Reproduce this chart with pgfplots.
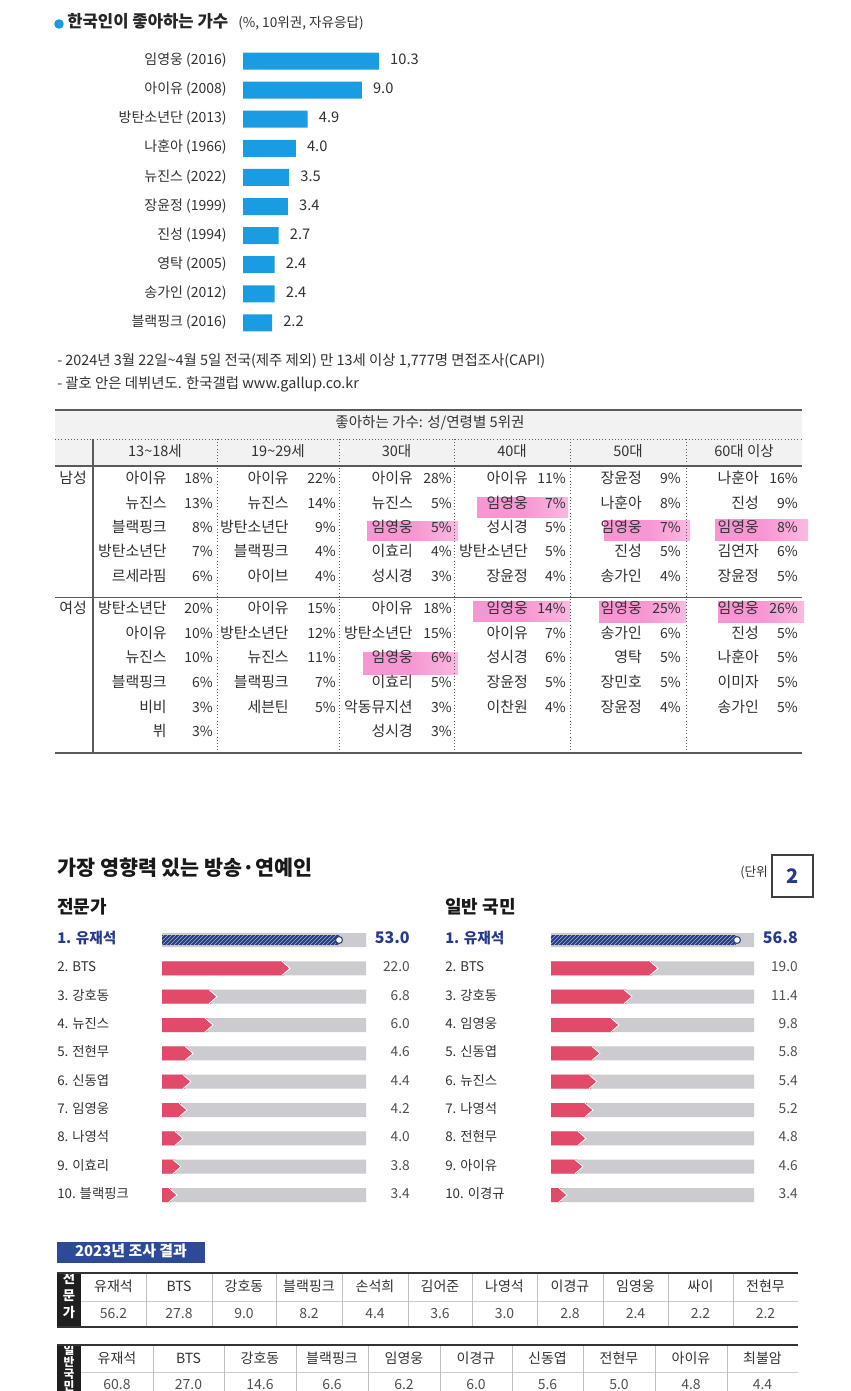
\documentclass[border=0pt]{standalone}
\usepackage{fontspec}
\setmainfont{Noto Sans CJK KR}
\usepackage{pgfplots}
\pgfplotsset{compat=1.18}
\usetikzlibrary{patterns}
\definecolor{barblue}{RGB}{26,156,226}
\definecolor{txt}{RGB}{50,50,50}
\definecolor{navy}{RGB}{38,58,140}
\definecolor{redbar}{RGB}{226,74,106}
\definecolor{track}{RGB}{204,204,208}
\definecolor{pinkhl}{RGB}{246,150,210}
\definecolor{pinkhl2}{RGB}{250,185,225}
\definecolor{hdrgray}{RGB}{242,242,242}
\definecolor{boxnavy}{RGB}{44,74,152}
\definecolor{rule}{RGB}{90,90,90}
\definecolor{valgray}{RGB}{80,80,80}
\pgfdeclareplotmark{tip}{%
  \pgfpathmoveto{\pgfqpoint{-1.5pt}{5.25pt}}%
  \pgfpathlineto{\pgfqpoint{4.5pt}{0pt}}%
  \pgfpathlineto{\pgfqpoint{-1.5pt}{-5.25pt}}%
  \pgfusepathqfillstroke}
\newcommand\fs[1]{\fontsize{#1}{#1}\selectfont}
\newcommand\tc[5]{\node[anchor=mid east,inner sep=0pt] at (#1,#3) {\fs{11.2}#4};\node[anchor=mid east,inner sep=0pt] at (#2,#3) {\fs{10.5}#5\%};}
\newcommand\hl[4]{\shade[left color=pinkhl, right color=pinkhl2, middle color=pinkhl] (#1,#2) rectangle (#3,#4);}
\begin{document}
\begin{tikzpicture}
\path[use as bounding box] (0pt,0pt) rectangle (637.5pt,-1043.25pt);
\fill[white] (0pt,0pt) rectangle (637.5pt,-1043.25pt);
\begin{scope}[x=0.75pt,y=-0.75pt]
% ---------- title 1
\fill[barblue] (59,24) circle (4.8);
\node[anchor=mid west, inner sep=0, text=black!85] at (67,24) {\fs{12.5}\bfseries 한국인이 좋아하는 가수};
\node[anchor=mid west, inner sep=0, text=txt] at (238,24) {\fs{10.2}(\%, 10위권, 자유응답)};
% ---------- notes
\node[anchor=mid west, inner sep=0, text=txt] at (57,362) {\fs{10.8}- 2024년 3월 22일\textasciitilde 4월 5일 전국(제주 제외) 만 13세 이상 1,777명 면접조사(CAPI)};
\node[anchor=mid west, inner sep=0, text=txt] at (57,385) {\fs{10.8}- 괄호 안은 데뷔년도. 한국갤럽 www.gallup.co.kr};
% ---------- table 1
\fill[hdrgray] (55,410) rectangle (802,466);
\hl{367}{521}{458}{540}
\hl{477}{497}{568}{517}
\hl{604}{520}{690}{540}
\hl{715}{519}{808}{540}
\hl{363}{652}{458}{674}
\hl{473}{601}{570}{621}
\hl{599}{601}{686}{622}
\hl{718}{601}{804}{622}
\draw[rule, line width=1.2pt] (55,410) -- (802,410);
\draw[rule, dotted] (55,439) -- (802,439);
\draw[rule, line width=0.9pt] (55,466) -- (802,466);
\draw[rule, line width=1.2pt] (55,597.5) -- (802,597.5);
\draw[rule, line width=1.2pt] (55,753) -- (802,753);
\draw[rule, line width=0.9pt] (93,439) -- (93,753);
\foreach \x in {217,339,454,570,686} \draw[rule, dotted] (\x,439) -- (\x,753);
\begin{scope}[every node/.style={text=txt, font=\fs{10.9}, anchor=mid}]
\node at (430,424) {좋아하는 가수: 성/연령별 5위권};
\node at (155,453) {13\textasciitilde 18세};
\node at (278,453) {19\textasciitilde 29세};
\node at (396.5,453) {30대};
\node at (512,453) {40대};
\node at (628,453) {50대};
\node at (744,453) {60대 이상};
\end{scope}
\begin{scope}[every node/.style={text=txt}]
\node[anchor=mid] at (73,480) {\fs{11.2}남성};
\node[anchor=mid] at (73,610) {\fs{11.2}여성};
% col 1
\tc{167}{213}{480}{아이유}{18}
\tc{167}{213}{504.5}{뉴진스}{13}
\tc{167}{213}{529}{블랙핑크}{8}
\tc{167}{213}{553}{방탄소년단}{7}
\tc{167}{213}{577.5}{르세라핌}{6}
\tc{167}{213}{610}{방탄소년단}{20}
\tc{167}{213}{634.5}{아이유}{10}
\tc{167}{213}{659}{뉴진스}{10}
\tc{167}{213}{684}{블랙핑크}{6}
\tc{167}{213}{708.5}{비비}{3}
\tc{167}{213}{733}{뷔}{3}
% col 2
\tc{289}{336}{480}{아이유}{22}
\tc{289}{336}{504.5}{뉴진스}{14}
\tc{289}{336}{529}{방탄소년단}{9}
\tc{289}{336}{553}{블랙핑크}{4}
\tc{289}{336}{577.5}{아이브}{4}
\tc{289}{336}{610}{아이유}{15}
\tc{289}{336}{634.5}{방탄소년단}{12}
\tc{289}{336}{659}{뉴진스}{11}
\tc{289}{336}{684}{블랙핑크}{7}
\tc{289}{336}{708.5}{세븐틴}{5}
% col 3
\tc{413}{452}{480}{아이유}{28}
\tc{413}{452}{504.5}{뉴진스}{5}
\tc{413}{452}{529}{임영웅}{5}
\tc{413}{452}{553}{이효리}{4}
\tc{413}{452}{577.5}{성시경}{3}
\tc{413}{452}{610}{아이유}{18}
\tc{413}{452}{634.5}{방탄소년단}{15}
\tc{413}{452}{659}{임영웅}{6}
\tc{413}{452}{684}{이효리}{5}
\tc{413}{452}{708.5}{악동뮤지션}{3}
\tc{413}{452}{733}{성시경}{3}
% col 4
\tc{528}{566}{480}{아이유}{11}
\tc{528}{566}{504.5}{임영웅}{7}
\tc{528}{566}{529}{성시경}{5}
\tc{528}{566}{553}{방탄소년단}{5}
\tc{528}{566}{577.5}{장윤정}{4}
\tc{528}{566}{610}{임영웅}{14}
\tc{528}{566}{634.5}{아이유}{7}
\tc{528}{566}{659}{성시경}{6}
\tc{528}{566}{684}{장윤정}{5}
\tc{528}{566}{708.5}{이찬원}{4}
% col 5
\tc{642}{681}{480}{장윤정}{9}
\tc{642}{681}{504.5}{나훈아}{8}
\tc{642}{681}{529}{임영웅}{7}
\tc{642}{681}{553}{진성}{5}
\tc{642}{681}{577.5}{송가인}{4}
\tc{642}{681}{610}{임영웅}{25}
\tc{642}{681}{634.5}{송가인}{6}
\tc{642}{681}{659}{영탁}{5}
\tc{642}{681}{684}{장민호}{5}
\tc{642}{681}{708.5}{장윤정}{4}
% col 6
\tc{759}{798}{480}{나훈아}{16}
\tc{759}{798}{504.5}{진성}{9}
\tc{759}{798}{529}{임영웅}{8}
\tc{759}{798}{553}{김연자}{6}
\tc{759}{798}{577.5}{장윤정}{5}
\tc{759}{798}{610}{임영웅}{26}
\tc{759}{798}{634.5}{진성}{5}
\tc{759}{798}{659}{나훈아}{5}
\tc{759}{798}{684}{이미자}{5}
\tc{759}{798}{708.5}{송가인}{5}
\end{scope}
% ---------- section 2 header
\node[anchor=mid west, inner sep=0, text=black!90] at (57,872) {\fs{15.5}\bfseries 가장 영향력 있는 방송·연예인};
\node[anchor=mid west, inner sep=0, text=txt] at (740,873) {\fs{9.5}(단위};
\draw[fill=white, draw=black!75, line width=1pt] (772,855) rectangle (813,897);
\node[text=navy] at (792.5,876) {\fs{15}\bfseries 2};
\node[anchor=mid west, inner sep=0, text=black!90] at (57,910) {\fs{13.5}\bfseries 전문가};
\node[anchor=mid west, inner sep=0, text=black!90] at (445,910) {\fs{13.5}\bfseries 일반 국민};
% ---------- 2023 tables
\fill[boxnavy] (57,1242) rectangle (205,1263);
\node[text=white, anchor=mid] at (131,1252.5) {\fs{11.2}\bfseries 2023년 조사 결과};
% table 2
\fill[black!88] (57,1273) rectangle (81,1327);
\foreach \yy/\ch in {1280/전,1297/문,1314/가} \node[text=white, inner sep=0, anchor=mid] at (69,\yy) {\fs{10}\bfseries \ch};
\draw[black!20] (81,1301) -- (798,1301);
\foreach \x in {146,212,276,342,408,472,537,603,668,733} \draw[black!25] (\x,1273) -- (\x,1327);
\draw[black!80, line width=1.3pt] (57,1273) -- (798,1273);
\draw[black!80, line width=1.3pt] (57,1327) -- (798,1327);
\foreach \c/\n/\v in {113.5/유재석/56.2,179/BTS/27.8,244/강호동/9.0,309/블랙핑크/8.2,375/손석희/4.4,440/김어준/3.6,504.5/나영석/3.0,570/이경규/2.8,635.5/임영웅/2.4,700.5/싸이/2.2,765.5/전현무/2.2}{
  \node[text=txt, anchor=mid] at (\c,1288) {\fs{10.5}\n};
  \node[text=valgray, anchor=mid] at (\c,1315) {\fs{10.5}\v};
}
% table 3
\fill[black!88] (57,1345) rectangle (81,1395);
\foreach \yy/\ch in {1351/일,1363/반,1375/국,1387/민} \node[text=white, inner sep=0, anchor=mid] at (69,\yy) {\fs{8.8}\bfseries \ch};
\draw[black!20] (81,1372) -- (798,1372);
\foreach \x in {153,224,296,368,440,512,583,655,727} \draw[black!25] (\x,1345) -- (\x,1395);
\draw[black!80, line width=1.3pt] (57,1345) -- (798,1345);
\foreach \c/\n/\v in {117/유재석/60.8,188.5/BTS/27.0,260/강호동/14.6,332/블랙핑크/6.6,404/임영웅/6.2,476/이경규/6.0,547.5/신동엽/5.6,619/전현무/5.0,691/아이유/4.8,762.5/최불암/4.4}{
  \node[text=txt, anchor=mid] at (\c,1360) {\fs{10.5}\n};
  \node[text=valgray, anchor=mid] at (\c,1386) {\fs{10.5}\v};
}
\end{scope}
% ================= chart 1
\begin{axis}[
  at={(182.25pt,-34.84pt)}, anchor=north west,
  scale only axis, width=198pt, height=218.25pt,
  xmin=0, xmax=20, ymin=0.5, ymax=10.5, y dir=reverse,
  axis line style={draw=none}, major tick style={draw=none},
  xtick=\empty, ytick={1,...,10},
  yticklabels={임영웅 (2016),아이유 (2008),방탄소년단 (2013),나훈아 (1966),뉴진스 (2022),장윤정 (1999),진성 (1994),영탁 (2005),송가인 (2012),블랙핑크 (2016)},
  yticklabel style={anchor=mid east, inner sep=0pt, xshift=-12pt, font=\fs{10.5}, text=txt},
  clip=false,
]
\addplot[xbar, bar width=12.75pt, bar shift=0pt, fill=barblue, draw=none,
  nodes near coords, point meta=explicit symbolic,
  nodes near coords style={anchor=mid west, inner sep=0pt, xshift=8.25pt, font=\fs{11}, text=txt}]
  coordinates {(10.3,1)[10.3] (9.0,2)[9.0] (4.9,3)[4.9] (4.0,4)[4.0] (3.5,5)[3.5] (3.4,6)[3.4] (2.7,7)[2.7] (2.4,8)[2.4] (2.4,9)[2.4] (2.2,10)[2.2]};
\end{axis}
% ================= chart 2 left (bar lengths in design units read from the picture; labels are the values)
\begin{axis}[
  at={(121.5pt,-694.37pt)}, anchor=north west,
  scale only axis, width=186pt, height=212.5pt,
  xmin=0, xmax=248, ymin=0.5, ymax=10.5, y dir=reverse,
  axis line style={draw=none}, major tick style={draw=none},
  xtick=\empty, ytick={1,...,10},
  yticklabels={{\fs{11}\color{navy}\bfseries 1. 유재석},2. BTS,3. 강호동,4. 뉴진스,5. 전현무,6. 신동엽,7. 임영웅,8. 나영석,9. 이효리,10. 블랙핑크},
  yticklabel style={anchor=mid west, inner sep=0pt, xshift=-78.75pt, font=\fs{10}, text=txt},
  clip=false,
]
\addplot[xbar, bar width=10.5pt, bar shift=0pt, fill=track, draw=none] coordinates {(204,1) (204,2) (204,3) (204,4) (204,5) (204,6) (204,7) (204,8) (204,9) (204,10)};
\addplot[xbar, bar width=10.5pt, bar shift=0pt, fill=redbar, draw=none] coordinates {(122,2) (49,3) (45,4) (25,5) (23,6) (19,7) (15,8) (13,9) (9,10)};
\addplot[only marks, mark=tip, mark options={fill=redbar, draw=white, line width=0.6pt}] coordinates {(122,2) (49,3) (45,4) (25,5) (23,6) (19,7) (15,8) (13,9) (9,10)};
\addplot[xbar, bar width=7.5pt, bar shift=0pt, fill=navy, draw=none, postaction={pattern=north east lines, pattern color=white!60!navy}] coordinates {(177,1)};
\addplot[only marks, mark=*, mark size=2.6pt, mark options={fill=white, draw=navy, line width=0.8pt}] coordinates {(177,1)};
\addplot[draw=none, nodes near coords, point meta=explicit symbolic, nodes near coords style={anchor=mid east, inner sep=0pt, font=\fs{10.3}, text=valgray}] coordinates {(248,2)[22.0] (248,3)[6.8] (248,4)[6.0] (248,5)[4.6] (248,6)[4.4] (248,7)[4.2] (248,8)[4.0] (248,9)[3.8] (248,10)[3.4]};
\addplot[draw=none, nodes near coords, point meta=explicit symbolic, nodes near coords style={anchor=mid east, inner sep=0pt, font=\fs{12}\bfseries, text=navy}] coordinates {(248,1)[53.0]};
\end{axis}
% ================= chart 2 right
\begin{axis}[
  at={(413.25pt,-694.37pt)}, anchor=north west,
  scale only axis, width=185.25pt, height=212.5pt,
  xmin=0, xmax=247, ymin=0.5, ymax=10.5, y dir=reverse,
  axis line style={draw=none}, major tick style={draw=none},
  xtick=\empty, ytick={1,...,10},
  yticklabels={{\fs{11}\color{navy}\bfseries 1. 유재석},2. BTS,3. 강호동,4. 임영웅,5. 신동엽,6. 뉴진스,7. 나영석,8. 전현무,9. 아이유,10. 이경규},
  yticklabel style={anchor=mid west, inner sep=0pt, xshift=-79.5pt, font=\fs{10}, text=txt},
  clip=false,
]
\addplot[xbar, bar width=10.5pt, bar shift=0pt, fill=track, draw=none] coordinates {(203,1) (203,2) (203,3) (203,4) (203,5) (203,6) (203,7) (203,8) (203,9) (203,10)};
\addplot[xbar, bar width=10.5pt, bar shift=0pt, fill=redbar, draw=none] coordinates {(101,2) (75,3) (62,4) (43,5) (40,6) (36,7) (29,8) (26,9) (10,10)};
\addplot[only marks, mark=tip, mark options={fill=redbar, draw=white, line width=0.6pt}] coordinates {(101,2) (75,3) (62,4) (43,5) (40,6) (36,7) (29,8) (26,9) (10,10)};
\addplot[xbar, bar width=7.5pt, bar shift=0pt, fill=navy, draw=none, postaction={pattern=north east lines, pattern color=white!60!navy}] coordinates {(185,1)};
\addplot[only marks, mark=*, mark size=2.6pt, mark options={fill=white, draw=navy, line width=0.8pt}] coordinates {(186,1)};
\addplot[draw=none, nodes near coords, point meta=explicit symbolic, nodes near coords style={anchor=mid east, inner sep=0pt, font=\fs{10.3}, text=valgray}] coordinates {(247,2)[19.0] (247,3)[11.4] (247,4)[9.8] (247,5)[5.8] (247,6)[5.4] (247,7)[5.2] (247,8)[4.8] (247,9)[4.6] (247,10)[3.4]};
\addplot[draw=none, nodes near coords, point meta=explicit symbolic, nodes near coords style={anchor=mid east, inner sep=0pt, font=\fs{12}\bfseries, text=navy}] coordinates {(247,1)[56.8]};
\end{axis}
\end{tikzpicture}
\end{document}
